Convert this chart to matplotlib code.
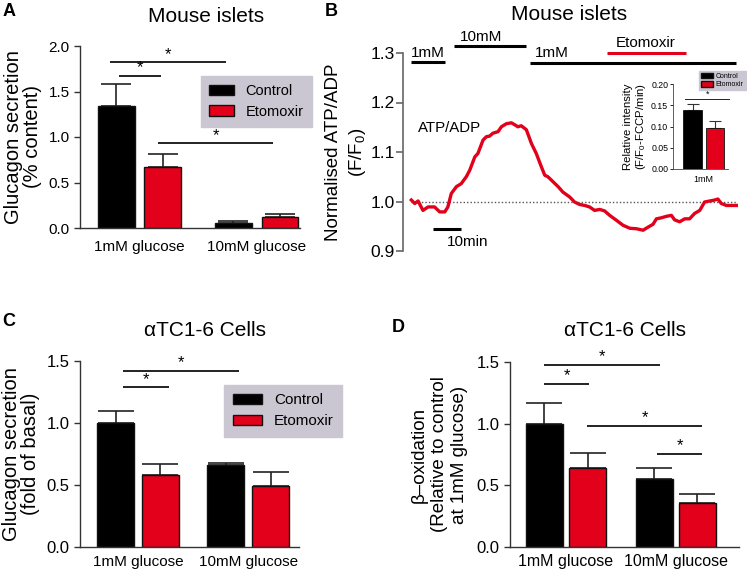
import matplotlib
matplotlib.use("Agg")
import matplotlib.pyplot as plt
import numpy as np
from matplotlib.patches import Patch

plt.rcParams['font.family'] = ['Liberation Sans', 'DejaVu Sans']
plt.rcParams['mathtext.fontset'] = 'custom'
plt.rcParams['mathtext.rm'] = 'Liberation Sans'
plt.rcParams['mathtext.it'] = 'Liberation Sans:italic'

RED = '#e2001a'
BLACK = '#000000'
LEGBG = '#cbc7d2'

# ---------------- data ----------------
groups = ['1mM glucose', '10mM glucose']
series = ['Control', 'Etomoxir']

A_ctrl = [1.34, 0.058]
A_ctrl_err = [0.24, 0.022]
A_eto = [0.67, 0.124]
A_eto_err = [0.14, 0.03]

C_ctrl = [1.0, 0.662]
C_ctrl_err = [0.10, 0.019]
C_eto = [0.579, 0.49]
C_eto_err = [0.089, 0.116]

D_ctrl = [0.997, 0.549]
D_ctrl_err = [0.171, 0.094]
D_eto = [0.641, 0.359]
D_eto_err = [0.118, 0.073]

inset_cat = ['1mM']
inset_ctrl = [0.139]
inset_ctrl_err = [0.013]
inset_eto = [0.096]
inset_eto_err = [0.016]

trace_t = [0, 1.2, 2.4, 4.1, 5.9, 8.2, 10, 11.8, 12.9, 14.1, 15.9, 17.6, 19.4, 20.6,
           22.4, 23.5, 25.3, 26.5, 27.6, 28.8, 30.6, 31.8, 33.5, 35.3, 36.5, 37.6,
           38.8, 40.6, 42.4, 44.1, 45.9, 47.1, 48.2, 50, 51.8, 53.5, 55.9, 57.6,
           59.4, 61.2, 62.9, 64.7, 66.5, 68.2, 70, 72.4, 74.7, 77.1, 79.4, 81.8,
           83.5, 85.3, 86.5, 88.2, 90, 91.8, 92.9, 94.7, 96.5, 98.2, 100, 101.8,
           103.5, 105.3, 107.1, 108.2, 109.4, 111.2, 112.9, 114.7]
trace_v = [1.003, 0.996, 1.001, 0.982, 0.989, 0.989, 0.979, 0.979, 0.989, 1.016,
           1.030, 1.036, 1.050, 1.063, 1.090, 1.097, 1.124, 1.131, 1.132, 1.138,
           1.141, 1.151, 1.157, 1.159, 1.155, 1.151, 1.153, 1.145, 1.117, 1.097,
           1.070, 1.053, 1.050, 1.040, 1.030, 1.019, 1.009, 0.999, 0.994, 0.992,
           0.989, 0.982, 0.984, 0.981, 0.972, 0.962, 0.952, 0.946, 0.945, 0.942,
           0.948, 0.954, 0.965, 0.967, 0.970, 0.972, 0.963, 0.959, 0.965, 0.965,
           0.976, 0.982, 0.999, 1.001, 1.003, 1.005, 0.996, 0.992, 0.992, 0.992]

# perfusion protocol bars
protocol_labels = ['1mM', '10mM', '1mM', 'Etomoxir']
protocol_start = [0, 15, 41.8, 69]
protocol_end = [11.8, 40.4, 114.7, 97]
protocol_level = [1.281, 1.3135, 1.28, 1.30]
protocol_text_x = [0, 17.0, 43.5, 72.0]
protocol_text_y = [1.286, 1.319, 1.286, 1.306]

W, H = 747, 570
fig = plt.figure(figsize=(W / 100, H / 100), dpi=100)


def rect(l, r, t, b):
    return [l / W, 1 - b / H, (r - l) / W, (b - t) / H]


def bar_panel(ax, ctrl, ctrl_err, eto, eto_err, offset, width, xlim, ylim, yticks,
              ticksize, catsize, pad, capsize=12):
    x = np.arange(len(groups))
    for xs, vals, errs, col in [(x - offset, ctrl, ctrl_err, BLACK), (x + offset, eto, eto_err, RED)]:
        ax.bar(xs, vals, width, color=col, edgecolor='#111111', linewidth=1.0, zorder=2)
        ax.errorbar(xs, vals, yerr=[np.zeros(len(vals)), errs], fmt='none', ecolor='#222222',
                    elinewidth=1.2, capsize=capsize, capthick=1.2, zorder=1)
    ax.set_xlim(*xlim)
    ax.set_ylim(*ylim)
    ax.set_yticks(yticks)
    ax.set_yticklabels([f'{v:.1f}' for v in yticks])
    ax.set_xticks(x)
    ax.set_xticklabels(groups, fontsize=catsize)
    ax.tick_params(axis='x', length=0, pad=pad)
    ax.tick_params(axis='y', labelsize=ticksize, length=4, width=1.0, color='#333333')
    for s in ['top', 'right']:
        ax.spines[s].set_visible(False)
    for s in ['left', 'bottom']:
        ax.spines[s].set_linewidth(1.0)
        ax.spines[s].set_color('#333333')
    ax.patch.set_alpha(0)


def sig(ax, x0, x1, y, size=12):
    ax.plot([x0, x1], [y, y], color='#222222', lw=1.4, clip_on=False, solid_capstyle='butt')
    ax.annotate('*', ((x0 + x1) / 2, y), xytext=(0, 0.5), textcoords='offset points',
                ha='center', va='bottom', fontsize=size, annotation_clip=False)


def legend(ax, anchor, fs, hl=1.8, bp=0.55):
    ax.legend(handles=[Patch(facecolor=BLACK, edgecolor='#111111', label=series[0]),
                       Patch(facecolor=RED, edgecolor='#111111', label=series[1])],
              loc='upper left', bbox_to_anchor=anchor, borderaxespad=0, fontsize=fs,
              frameon=True, fancybox=False, facecolor=LEGBG, edgecolor=LEGBG, framealpha=1,
              handlelength=hl, handleheight=0.7, borderpad=bp, labelspacing=0.45,
              handletextpad=0.8)


# ---------------- Panel A ----------------
axA = fig.add_axes(rect(80, 300, 46, 228))
bar_panel(axA, A_ctrl, A_ctrl_err, A_eto, A_eto_err, 0.199, 0.316, (-0.51, 1.37), (0, 2.0),
          [0, 0.5, 1.0, 1.5, 2.0], 11, 11, 8.5, capsize=11)
axA.set_ylabel('Glucagon secretion\n(% content)', fontsize=14.5, linespacing=1.0, labelpad=5)
sig(axA, -0.254, 0.738, 1.82)
sig(axA, -0.177, 0.182, 1.67)
sig(axA, 0.157, 1.14, 0.93)
legend(axA, (0.55, 0.835), 10.5, hl=1.7)

# ---------------- Panel B ----------------
axB = fig.add_axes(rect(403, 740, 53, 251))
axB.plot(trace_t, trace_v, color=RED, lw=2.4, solid_joinstyle='round', zorder=3)
axB.axhline(1.0, xmin=(0 + 2.94) / 118.94, xmax=(114.7 + 2.94) / 118.94, color='#555555',
            lw=1.0, ls=(0, (1, 1.5)), zorder=2)
axB.set_xlim(-2.94, 116)
axB.set_ylim(0.9, 1.3)
axB.set_yticks([0.9, 1.0, 1.1, 1.2, 1.3])
axB.set_yticklabels(['0.9', '1.0', '1.1', '1.2', '1.3'])
axB.set_xticks([])
for s in ['top', 'right', 'bottom']:
    axB.spines[s].set_visible(False)
axB.spines['left'].set_color('#666666')
axB.spines['left'].set_linewidth(1.2)
axB.tick_params(axis='y', labelsize=12.5, length=5, width=1.2, color='#666666', pad=1)
axB.set_ylabel('Normalised ATP/ADP\n(F/F$_0$)', fontsize=13.5, linespacing=1.3, labelpad=2)
axB.patch.set_alpha(0)
for lab, t0, t1, lv, tx, ty, col in zip(protocol_labels, protocol_start, protocol_end,
                                        protocol_level, protocol_text_x, protocol_text_y,
                                        ['k', 'k', 'k', RED]):
    axB.plot([t0, t1], [lv, lv], color=col, lw=2.2, clip_on=False, solid_capstyle='butt')
    axB.text(tx, ty, lab, ha='left', va='bottom', fontsize=11, clip_on=False)
axB.text(2.4, 1.148, 'ATP/ADP', ha='left', va='center', fontsize=10.8)
axB.plot([7.6, 17.6], [0.945, 0.945], color='k', lw=2.2, solid_capstyle='butt')
axB.text(12.6, 0.918, '10min', ha='left', va='center', fontsize=11)

# inset
axI = fig.add_axes(rect(673, 728, 84, 169))
xi = np.arange(len(inset_cat))
axI.bar(xi, inset_ctrl, 0.84, color=BLACK, edgecolor='#111111', lw=0.6, zorder=2)
axI.bar(xi + 1, inset_eto, 0.84, color=RED, edgecolor='#111111', lw=0.6, zorder=2)
axI.errorbar(xi, inset_ctrl, yerr=[[0], inset_ctrl_err], fmt='none', ecolor='#333333',
             elinewidth=0.8, capsize=4, capthick=0.8, zorder=1)
axI.errorbar(xi + 1, inset_eto, yerr=[[0], inset_eto_err], fmt='none', ecolor='#333333',
             elinewidth=0.8, capsize=4, capthick=0.8, zorder=1)
axI.set_xlim(-0.867, 1.578)
axI.set_ylim(0, 0.20)
axI.set_yticks([0, 0.05, 0.10, 0.15, 0.20])
axI.set_yticklabels(['0.00', '0.05', '0.10', '0.15', '0.20'])
axI.set_xticks([0.5])
axI.set_xticklabels(inset_cat, fontsize=6.5)
axI.tick_params(axis='x', length=0, pad=4)
axI.tick_params(axis='y', labelsize=6.3, length=2, width=0.6, pad=1.5)
for s in ['top', 'right']:
    axI.spines[s].set_visible(False)
for s in ['left', 'bottom']:
    axI.spines[s].set_linewidth(0.6)
    axI.spines[s].set_color('#444444')
axI.set_ylabel('Relative intensity\n(F/F$_0$-FCCP/min)', fontsize=8.2, linespacing=1.1, labelpad=2)
axI.plot([-0.33, 1.62], [0.165, 0.165], color='#222222', lw=0.7, clip_on=False)
axI.text(0.65, 0.166, '*', ha='center', va='bottom', fontsize=6.5, zorder=10)
leg = axI.legend(handles=[Patch(facecolor=BLACK, edgecolor='#111111', label=series[0]),
                          Patch(facecolor=RED, edgecolor='#111111', label=series[1])],
                 loc='upper left', bbox_to_anchor=(0.47, 1.153), borderaxespad=0, fontsize=5,
                 frameon=True, fancybox=False, facecolor=LEGBG, edgecolor=LEGBG, framealpha=1,
                 handlelength=1.7, handleheight=0.8, borderpad=0.3, labelspacing=0.15,
                 handletextpad=0.45)
leg.set_zorder(5)
axI.patch.set_alpha(0)

# ---------------- Panel C ----------------
axC = fig.add_axes(rect(80, 299, 361, 547))
bar_panel(axC, C_ctrl, C_ctrl_err, C_eto, C_eto_err, 0.204, 0.335, (-0.526, 1.46), (0, 1.5),
          [0, 0.5, 1.0, 1.5], 12, 11, 5.5, capsize=13)
axC.set_ylabel('Glucagon secretion\n(fold of basal)', fontsize=14.5, linespacing=1.0, labelpad=5)
sig(axC, -0.133, 0.916, 1.417)
sig(axC, -0.133, 0.281, 1.287)
legend(axC, (0.658, 0.871), 11, hl=1.9)

# ---------------- Panel D ----------------
axD = fig.add_axes(rect(510, 739, 362, 547))
bar_panel(axD, D_ctrl, D_ctrl_err, D_eto, D_eto_err, 0.196, 0.337, (-0.51, 1.576), (0, 1.5),
          [0, 0.5, 1.0, 1.5], 12, 11.5, 5, capsize=13)
axD.set_ylabel('β–oxidation\n(Relative to control\nat 1mM glucose)', fontsize=13.5,
               linespacing=1.25, labelpad=6)
sig(axD, -0.2, 0.857, 1.478)
sig(axD, -0.2, 0.21, 1.324)
sig(axD, 0.189, 1.242, 0.981)
sig(axD, 0.827, 1.242, 0.757)

# ---------------- titles / labels ----------------
fig.text(206 / W, 1 - 16 / H, 'Mouse islets', ha='center', va='center', fontsize=15)
fig.text(569 / W, 1 - 14 / H, 'Mouse islets', ha='center', va='center', fontsize=15)
fig.text(205 / W, 1 - 330 / H, 'αTC1-6 Cells', ha='center', va='center', fontsize=15)
fig.text(625 / W, 1 - 330 / H, 'αTC1-6 Cells', ha='center', va='center', fontsize=15)
for lab, x, y in [('A', 3, 12), ('B', 325, 12), ('C', 2, 322), ('D', 392, 328)]:
    fig.text(x / W, 1 - y / H, lab, ha='left', va='center', fontsize=13, fontweight='bold')

fig.savefig('out.png', dpi=100)
